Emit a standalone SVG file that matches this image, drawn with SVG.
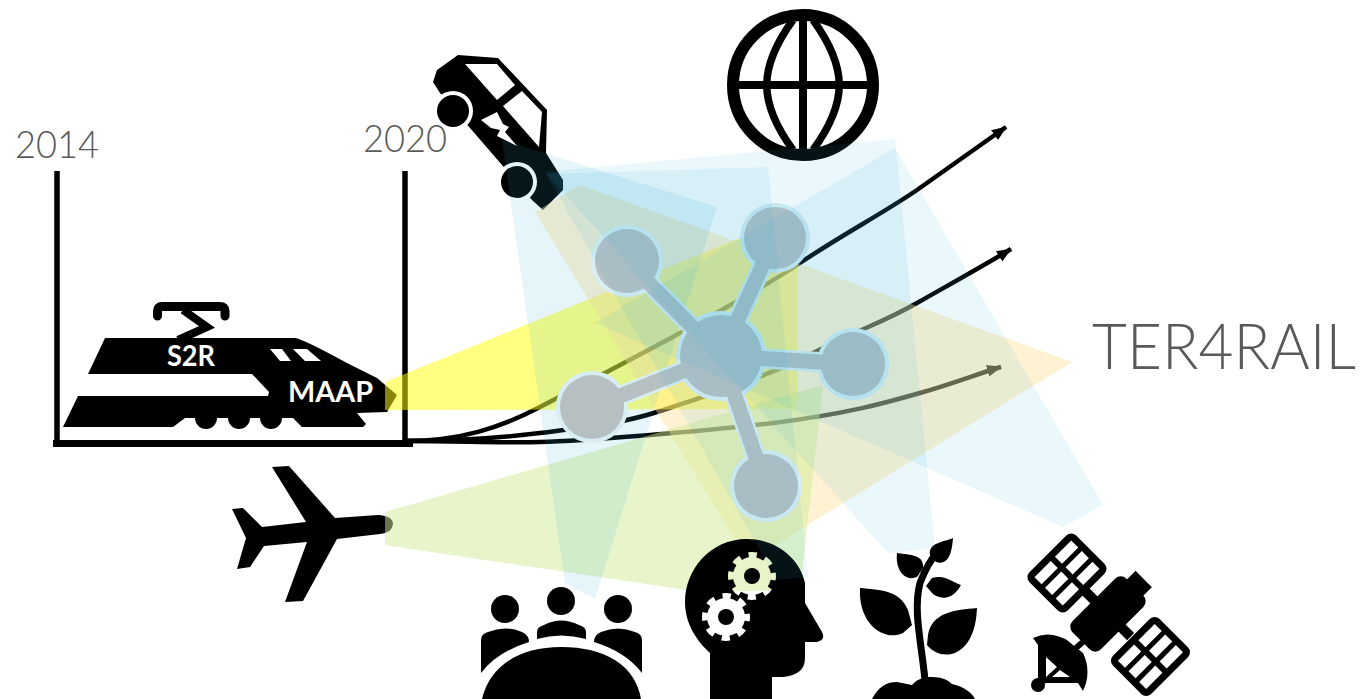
<svg xmlns="http://www.w3.org/2000/svg" width="1371" height="699" viewBox="0 0 1371 699">
<style>
.lbl{font-family:"Lato","Open Sans","Liberation Sans",sans-serif;font-weight:300;fill:#595959}
.wt{font-family:"Lato","Liberation Sans",sans-serif;font-weight:700;fill:#fff;font-size:28px}
.ax{stroke:#000;stroke-width:5.5;fill:none}
.cv{stroke:#000;stroke-width:4.5;fill:none;marker-end:url(#ah)}
.blue{fill:#30b0d8;opacity:.125}
.blue2{fill:#30b0d8;opacity:.1}
.gearteeth{fill:none;stroke:#000;stroke-width:6;stroke-dasharray:8.25 8.25;stroke-dashoffset:4.12}
</style>
<defs>
<marker id="ah" markerUnits="userSpaceOnUse" markerWidth="16" markerHeight="14" refX="14" refY="6" orient="auto"><path d="M0,0L15,6L0,12Z" fill="#000"/></marker>
<mask id="headholes" maskUnits="userSpaceOnUse" x="670" y="530" width="170" height="169">
<rect x="670" y="530" width="170" height="169" fill="#fff"/>
<circle cx="752" cy="576" r="19"/><circle class="gearteeth" cx="752" cy="576" r="21"/>
<circle cx="726" cy="617" r="19"/><circle class="gearteeth" cx="726" cy="617" r="21"/>
<circle cx="752" cy="576" r="8" fill="#fff"/><circle cx="726" cy="617" r="8" fill="#fff"/>
</mask>
</defs>
<rect width="1371" height="699" fill="#fff"/>

<g id="train">
<path d="M157.500,316V311Q157.500,306.500 162,306.500H220Q225,306.500 225,311V316" fill="none" stroke="#000" stroke-width="9" stroke-linecap="round"/>
<path d="M183,310L207,327L178,340" fill="none" stroke="#000" stroke-width="8"/>
<path d="M105,338H295Q303,339 347,363L377,378L397,395L387,412L357,413L366,424L363,427H302L293,418H185L173,427H63L78,396H268L269,392L252,374H88Z" fill="#000"/>
<circle cx="206" cy="418" r="11"/><circle cx="239" cy="418" r="11"/><circle cx="271" cy="418" r="11"/>
<path d="M270,349H282L291,361H280ZM293,349H307L321,361H305Z" fill="#fff"/>
<text class="wt" x="167" y="366" textLength="48" lengthAdjust="spacingAndGlyphs">S2R</text>
<text class="wt" x="288" y="402" textLength="85" lengthAdjust="spacingAndGlyphs">MAAP</text>
</g>
<g id="plane"><path d="M272,467L289,466L335,518L378,515Q393,516 393,524Q392,533 380,534L337,539L303,601L285,602L307,542L264,546L250,567L237,569L246,538L232,509L243,508L262,527L306,522Z"/></g>
<g id="car">
<path d="M458,55L498,58L547,110L546,153L563,180V190L543,210L532,200L502,165L470,128L440,93L433,82L437,70Z"/>
<circle cx="453" cy="111" r="20" fill="#fff"/><circle cx="453" cy="111" r="16"/>
<circle cx="517" cy="182" r="20" fill="#fff"/><circle cx="517" cy="182" r="16"/>
<path d="M465,64L497,64L515,85L497,100ZM522,91L542,112L539,147L503,106Z" fill="#fff"/>
<path d="M481,120L497,112L503,124L509,127L505,132L517,146L497,136L500,130L491,128Z" fill="#fff"/>
</g>
<g id="globe" fill="none" stroke="#000">
<circle cx="803" cy="85" r="70" stroke-width="12"/>
<path d="M803,15V155M733,85H873" stroke-width="8"/>
<path d="M793,20C758,68 758,102 793,150M813,20C848,68 848,102 813,150" stroke-width="7.500"/>
</g>
<g id="people">
<circle cx="505" cy="609" r="14"/><circle cx="561" cy="601" r="14"/><circle cx="618" cy="609" r="14"/>
<path d="M481,673V640Q481,634 488,632Q505,625 522,632Q529,635 529,642Q497,652 481,673Z"/>
<path d="M537,639V632Q537,627 544,625Q561,616 579,625Q586,627 586,632V639Q561,632 537,639Z"/>
<path d="M642,673V640Q642,634 635,632Q618,625 601,632Q594,635 594,642Q626,652 642,673Z"/>
<path d="M482,699C490,665 520,647 561,647C605,647 635,665 641,699Z"/>
</g>
<g id="plant">
<path d="M925,680C921,640 913,610 920,583C925,570 930,560 937,553" fill="none" stroke="#000" stroke-width="7"/>
<path d="M860,588C880,590 900,590 908,610L912,625L903,633C885,642 858,625 860,588Z"/>
<path d="M977,608C955,610 932,612 928,635L927,645C940,662 975,660 977,608Z"/>
<path d="M897,553C905,555 925,553 923,568L917,577C905,582 895,570 897,553Z"/>
<path d="M953,538C945,542 928,542 930,555L936,562C950,566 952,550 953,538Z"/>
<path d="M961,585C952,582 945,574 932,578L926,586L933,594C945,602 955,596 961,585Z"/>
<path d="M872,699C878,688 885,682 897,682L912,685C918,678 925,677 932,677C942,677 948,680 952,684C965,687 972,693 975,699Z"/>
</g>
<g id="satellite">
<g transform="translate(1108,614) rotate(45)">
<rect x="-20" y="-38" width="40" height="76" rx="8"/>
<rect x="-11" y="-50" width="23" height="14"/>
<rect x="-32" y="-5" width="14" height="10"/><rect x="18" y="-5" width="14" height="10"/>
<g id="sat-panel-1" transform="translate(-58,0)"><rect x="-27" y="-33" width="54" height="66" rx="7"/>
<g fill="#fff"><rect x="-20" y="-26" width="10" height="23"/><rect x="-5" y="-26" width="10" height="23"/><rect x="10" y="-26" width="10" height="23"/><rect x="-20" y="3" width="10" height="23"/><rect x="-5" y="3" width="10" height="23"/><rect x="10" y="3" width="10" height="23"/></g></g>
<g id="sat-panel-2" transform="translate(60,0)"><rect x="-27" y="-33" width="54" height="66" rx="7"/>
<g fill="#fff"><rect x="-20" y="-26" width="10" height="23"/><rect x="-5" y="-26" width="10" height="23"/><rect x="10" y="-26" width="10" height="23"/><rect x="-20" y="3" width="10" height="23"/><rect x="-5" y="3" width="10" height="23"/><rect x="10" y="3" width="10" height="23"/></g></g>
</g>
<path d="M1033,638Q1043,633 1053,635Q1065,637 1073,645L1083,653Q1092,672 1083,691L1078,683H1047L1038,685V645Z"/>
<circle cx="1038" cy="685" r="7"/>
<path d="M1046,657L1057,667L1046,677ZM1060,670L1070,677H1052Z" fill="#fff"/>
<path d="M1076,648L1085,640" stroke="#000" stroke-width="6"/>
</g>

<g id="timeline">
<path class="ax" d="M57,171V441M405,171V441"/>
<rect x="53" y="440" width="360" height="7"/>
<text class="lbl" x="15" y="158" font-size="37" textLength="84" lengthAdjust="spacingAndGlyphs">2014</text>
<text class="lbl" x="363" y="152" font-size="37" textLength="84" lengthAdjust="spacingAndGlyphs">2020</text>
</g>

<g id="connectors">
<path class="cv" d="M405,441C460,441 500,428 540,407S640,355 680,333S760,290 800,263S885,212 917,190L1006,127"/>
<path class="cv" d="M405,441C460,441 500,438 540,433S620,424 657,412S760,380 813,353S880,324 917,303S990,262 1011,249"/>
<path class="cv" d="M405,441C460,441 500,443 540,442S700,432 773,423S885,403 920,393S980,373 1001,367"/>
<polygon id="beam-train" points="385,382 740,238 798,264 798,409 385,410" fill="#ffff10" opacity=".52"/>
<polygon id="beam-car-ter" points="535,212 580,185 1072,362 775,545 735,540" fill="#ffe196" opacity=".42"/>
<polygon id="beam-plane" points="385,512 823,385 800,590 700,592 385,545" fill="#d2eb96" opacity=".5"/>
</g>

<g id="brain">
<path d="M747,539C710,539 685,570 685,602C685,625 698,642 710,653V699H772V677H783Q805,675 805,658V642H817Q826,640 822,632L805,603V583C800,558 775,539 747,539Z" mask="url(#headholes)"/>
</g>

<polygon id="beam-people" class="blue" points="502,140 717,207 595,599 565,583"/>

<g id="hub">
<g stroke="#d8eef4" fill="#d8eef4" stroke-width="20">
<path d="M721,356L627,261M721,356L775,238M721,356L853,364M721,356L592,407M721,356L766,486"/>
<circle cx="721" cy="356" r="42" stroke-width="6"/><circle cx="627" cy="261" r="33" stroke-width="6"/><circle cx="775" cy="238" r="32" stroke-width="6"/><circle cx="853" cy="364" r="33" stroke-width="6"/><circle cx="592" cy="407" r="33" stroke-width="6"/><circle cx="766" cy="486" r="33" stroke-width="6"/>
</g>
<g stroke="#b6bfc2" fill="#b6bfc2" stroke-width="15">
<path d="M721,356L627,261M721,356L775,238M721,356L853,364M721,356L592,407M721,356L766,486"/>
<circle cx="721" cy="356" r="41" stroke="none"/><circle cx="627" cy="261" r="32" stroke="none"/><circle cx="775" cy="238" r="31" stroke="none"/><circle cx="853" cy="364" r="32" stroke="none"/><circle cx="592" cy="407" r="32" stroke="none"/><circle cx="766" cy="486" r="32" stroke="none"/>
</g>
</g>

<polygon id="beam-satellite" class="blue2" points="595,323 895,148 1103,505 1063,527"/>
<polygon id="beam-plant" class="blue2" points="545,172 895,139 935,548 888,553"/>
<polygon id="beam-head" class="blue2" points="546,174 768,167 808,577 777,580"/>

<g id="ter4rail"><text class="lbl" x="1092" y="369" font-size="64" textLength="264" lengthAdjust="spacingAndGlyphs">TER4RAIL</text></g>
</svg>
